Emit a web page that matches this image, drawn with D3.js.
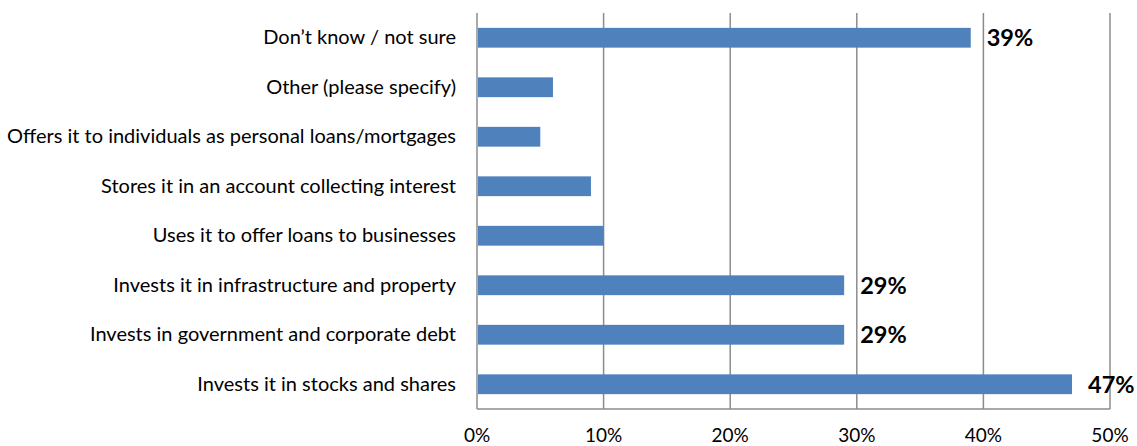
<!DOCTYPE html>
<html>
<head>
<meta charset="utf-8">
<script src="https://cdn.jsdelivr.net/npm/d3@7"></script>
<style>
  html, body { margin: 0; padding: 0; background: #fff; }
  svg { display: block; }
  .cat { font-family: Lato, "Open Sans", sans-serif; font-size: 20px; fill: #000; }
  .tick-label { font-family: Lato, "Open Sans", sans-serif; font-size: 19px; fill: #000; }
  .val { font-family: Lato, "Open Sans", sans-serif; font-size: 23.5px; font-weight: bold; fill: #000; }
</style>
</head>
<body>
<svg id="chart" width="1137" height="446"></svg>
<script>
// Survey answers, listed top to bottom
const categories = [
  "Don\u2019t know / not sure",
  "Other (please specify)",
  "Offers it to individuals as personal loans/mortgages",
  "Stores it in an account collecting interest ",
  "Uses it to offer loans to businesses",
  "Invests it in infrastructure and property",
  "Invests in government and corporate debt",
  "Invests it in stocks and shares"
];
// Share of respondents (%)
const values = [39, 6, 5, 9, 10, 29, 29, 47];
// Which bars carry a value label
const showLabel = [true, false, false, false, false, true, true, true];
// Axis ticks (%)
const tickValues = [0, 10, 20, 30, 40, 50];

const svg = d3.select("#chart");
const margin = { top: 13, left: 477, right: 27, bottom: 37 };
const width = 1137, height = 446;

const x = d3.scaleLinear().domain([0, 50]).range([margin.left, width - margin.right]);
const y = d3.scaleBand().domain(categories).range([margin.top, height - margin.bottom]).paddingInner(0.6).paddingOuter(0.3);

const gridColor = "#8c8c8c";

// vertical gridlines
svg.append("g").selectAll("line").data(tickValues.slice(1)).join("line")
  .attr("x1", d => x(d)).attr("x2", d => x(d))
  .attr("y1", margin.top).attr("y2", height - margin.bottom)
  .attr("stroke", gridColor).attr("stroke-width", 1.5);

// bars
svg.append("g").selectAll("rect").data(values).join("rect")
  .attr("x", x(0) + 1)
  .attr("y", (d, i) => y(categories[i]))
  .attr("width", d => x(d) - x(0) - 1)
  .attr("height", y.bandwidth())
  .attr("fill", "#4f81bd");

// axes lines
svg.append("line")
  .attr("x1", x(0)).attr("x2", x(0))
  .attr("y1", margin.top).attr("y2", height - margin.bottom)
  .attr("stroke", gridColor).attr("stroke-width", 1.5);
svg.append("line")
  .attr("x1", x(0)).attr("x2", x(50))
  .attr("y1", height - margin.bottom).attr("y2", height - margin.bottom)
  .attr("stroke", gridColor).attr("stroke-width", 1.5);

// category labels
svg.append("g").selectAll("text").data(categories).join("text")
  .attr("class", "cat")
  .attr("x", x(0) - 21)
  .attr("y", d => y(d) + y.bandwidth() / 2 + 6.5)
  .attr("text-anchor", "end")
  .text(d => d);

// tick labels
svg.append("g").selectAll("text").data(tickValues).join("text")
  .attr("class", "tick-label")
  .attr("x", d => x(d))
  .attr("y", 442)
  .attr("text-anchor", "middle")
  .text(d => d + "%");

// value labels
svg.append("g").selectAll("text")
  .data(values.map((v, i) => ({ v, i })).filter(d => showLabel[d.i]))
  .join("text")
  .attr("class", "val")
  .attr("x", d => x(d.v) + 16)
  .attr("y", d => y(categories[d.i]) + y.bandwidth() / 2 + 8.5)
  .text(d => d.v + "%");
</script>
</body>
</html>
